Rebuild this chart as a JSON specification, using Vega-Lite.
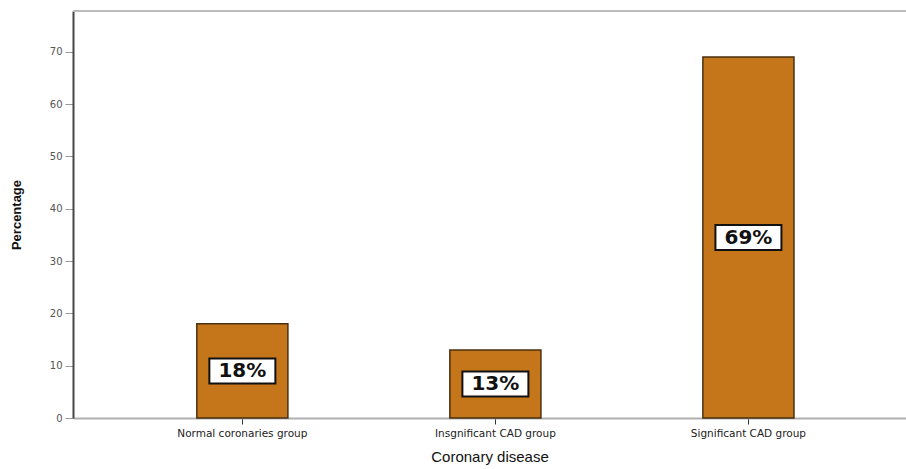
{
  "$schema": "https://vega.github.io/schema/vega-lite/v6.json",
  "width": 833,
  "height": 407,
  "autosize": {"type": "none"},
  "padding": {"left": 73, "top": 11, "right": 0, "bottom": 51},
  "config": {"view": {"stroke": null}},
  "data": {
    "values": [
      {"group": "Normal coronaries group", "pct": 18, "label": "18%"},
      {"group": "Insgnificant CAD group", "pct": 13, "label": "13%"},
      {"group": "Significant CAD group", "pct": 69, "label": "69%"}
    ]
  },
  "transform": [{"calculate": "datum.pct / 2", "as": "mid"}],
  "layer": [
    {
      "mark": {"type": "bar", "color": "#c6761a", "stroke": "#4a3010", "strokeWidth": 1.5},
      "encoding": {
        "x": {
          "field": "group",
          "type": "nominal",
          "sort": null,
          "scale": {"paddingInner": 0.64, "paddingOuter": 0.466, "align": 0.525},
          "axis": {
            "title": "Coronary disease",
            "titleFont": "Liberation Sans",
            "titleFontSize": 15,
            "titleFontWeight": "normal",
            "titleColor": "#111",
            "titlePadding": 11,
            "labelAngle": 0,
            "labelFont": "DejaVu Sans",
            "labelFontSize": 10.5,
            "labelColor": "#222",
            "labelPadding": 4,
            "domainColor": "#b0b0b0",
            "domainWidth": 2,
            "tickColor": "#333",
            "tickSize": 6,
            "tickWidth": 1
          }
        },
        "y": {
          "field": "pct",
          "type": "quantitative",
          "scale": {"domain": [0, 77.8], "nice": false},
          "axis": {
            "title": "Percentage",
            "titleFont": "Liberation Sans",
            "titleFontSize": 13,
            "titleFontWeight": "bold",
            "titleColor": "#111",
            "titlePadding": 26,
            "values": [0, 10, 20, 30, 40, 50, 60, 70],
            "grid": false,
            "labelFont": "DejaVu Sans",
            "labelFontSize": 10,
            "labelColor": "#555",
            "labelPadding": 3,
            "domainColor": "#444",
            "domainWidth": 2,
            "tickColor": "#999",
            "tickSize": 8,
            "tickWidth": 1
          }
        }
      }
    },
    {
      "mark": {"type": "rule", "color": "#bcbcbc", "strokeWidth": 2},
      "encoding": {"y": {"datum": 77.8, "type": "quantitative"}}
    },
    {
      "mark": {
        "type": "point",
        "shape": "M-1,-0.38H1V0.38H-1Z",
        "size": 4356,
        "filled": true,
        "fill": "#ffffff",
        "stroke": "#111",
        "strokeWidth": 2,
        "opacity": 1
      },
      "encoding": {
        "x": {"field": "group", "type": "nominal", "sort": null},
        "y": {"field": "mid", "type": "quantitative"}
      }
    },
    {
      "mark": {
        "type": "text",
        "font": "DejaVu Sans",
        "fontSize": 20,
        "fontWeight": "bold",
        "color": "#111",
        "baseline": "middle",
        "align": "center"
      },
      "encoding": {
        "x": {"field": "group", "type": "nominal", "sort": null},
        "y": {"field": "mid", "type": "quantitative"},
        "text": {"field": "label"}
      }
    }
  ]
}
